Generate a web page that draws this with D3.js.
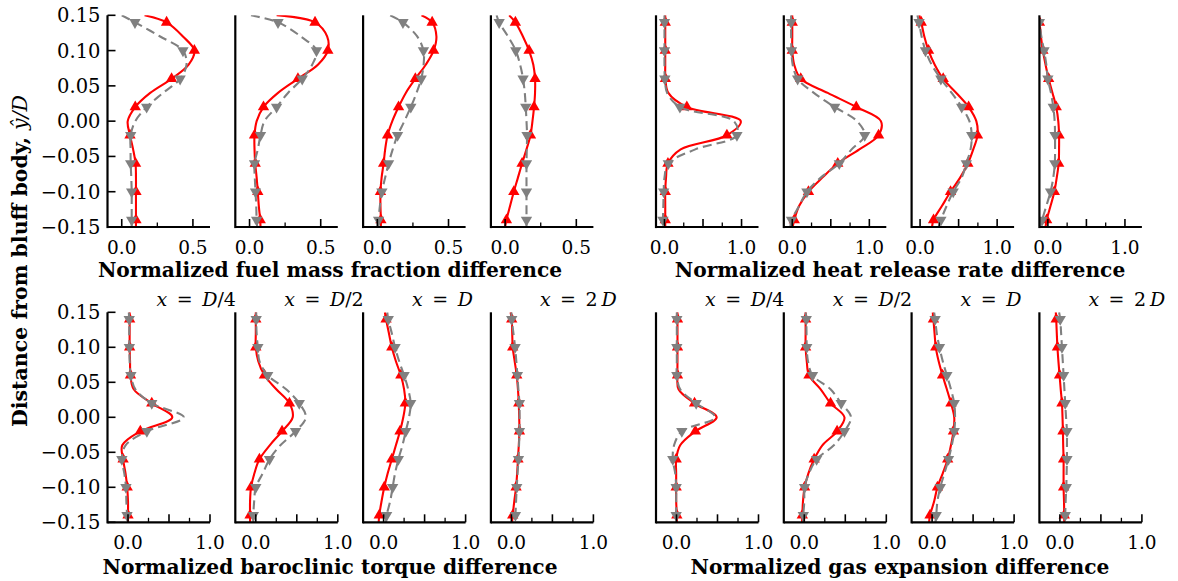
<!DOCTYPE html>
<html><head><meta charset="utf-8">
<script src="https://cdn.jsdelivr.net/npm/d3@7"></script>
<style>body{margin:0;background:#fff} svg{display:block}</style>
</head><body><svg id="c" width="1178" height="581"></svg>
<script>
// sampled heights (y / D) of each profile, top to bottom
const yLevels = [0.15, 0.14, 0.12, 0.10, 0.08, 0.06, 0.04, 0.02, 0.00, -0.02, -0.04, -0.06, -0.08, -0.10, -0.12, -0.14, -0.15];
const markerLevels = [0.14, 0.10, 0.06, 0.02, -0.02, -0.06, -0.10, -0.14];
const yTicks = [-0.15, -0.10, -0.05, 0.00, 0.05, 0.10, 0.15];
const stations = ["D/4", "D/2", "D", "2 D"];

// Normalized fuel mass fraction difference (4 stations)
const fuelRed = [
  [0.16, 0.315, 0.43, 0.51, 0.47, 0.35, 0.20, 0.095, 0.042, 0.058, 0.08, 0.097, 0.10, 0.10, 0.10, 0.10, 0.10],
  [0.19, 0.46, 0.545, 0.55, 0.48, 0.34, 0.20, 0.098, 0.05, 0.035, 0.035, 0.04, 0.05, 0.058, 0.065, 0.075, 0.077],
  [0.31, 0.385, 0.415, 0.395, 0.34, 0.267, 0.20, 0.149, 0.105, 0.072, 0.055, 0.044, 0.03, 0.022, 0.022, 0.025, 0.025],
  [0.028, 0.072, 0.125, 0.168, 0.198, 0.21, 0.21, 0.203, 0.192, 0.178, 0.15, 0.119, 0.09, 0.061, 0.035, 0.009, 0.0]
];
const fuelGray = [
  [0.0, 0.093, 0.27, 0.43, 0.455, 0.41, 0.29, 0.175, 0.095, 0.063, 0.062, 0.063, 0.067, 0.07, 0.07, 0.07, 0.07],
  [0.01, 0.20, 0.36, 0.47, 0.44, 0.37, 0.27, 0.19, 0.105, 0.077, 0.058, 0.035, 0.037, 0.042, 0.047, 0.05, 0.054],
  [0.09, 0.18, 0.28, 0.324, 0.325, 0.308, 0.275, 0.235, 0.19, 0.142, 0.108, 0.079, 0.055, 0.032, 0.018, 0.009, 0.007],
  [-0.06, -0.042, 0.02, 0.075, 0.105, 0.126, 0.138, 0.145, 0.15, 0.154, 0.152, 0.15, 0.15, 0.15, 0.15, 0.15, 0.15]
];
// Normalized heat release rate difference
const heatRed = [
  [0.01, 0.01, 0.01, 0.01, 0.01, 0.012, 0.05, 0.29, 0.99, 0.81, 0.21, 0.045, 0.02, 0.01, 0.01, 0.01, 0.01],
  [0.0, 0.0, 0.0, 0.0, 0.025, 0.11, 0.46, 0.83, 1.15, 1.12, 0.87, 0.59, 0.39, 0.21, 0.09, 0.026, 0.005],
  [-0.01, 0.015, 0.055, 0.11, 0.19, 0.30, 0.47, 0.63, 0.73, 0.745, 0.69, 0.62, 0.52, 0.395, 0.285, 0.175, 0.155],
  [-0.14, -0.11, -0.09, -0.065, -0.03, 0.01, 0.06, 0.108, 0.135, 0.145, 0.145, 0.14, 0.115, 0.084, 0.035, -0.016, -0.03]
];
const heatGray = [
  [0.0, 0.0, 0.0, 0.0, 0.0, 0.005, 0.035, 0.2, 0.9, 0.94, 0.4, 0.05, 0.0, -0.01, -0.015, -0.02, -0.02],
  [-0.015, -0.015, -0.015, -0.01, 0.005, 0.07, 0.28, 0.55, 0.84, 0.94, 0.77, 0.61, 0.37, 0.19, 0.09, -0.01, -0.025],
  [-0.035, -0.013, 0.02, 0.07, 0.15, 0.27, 0.41, 0.54, 0.64, 0.67, 0.655, 0.60, 0.54, 0.43, 0.345, 0.27, 0.24],
  [-0.13, -0.11, -0.085, -0.05, -0.02, 0.0, 0.04, 0.07, 0.088, 0.093, 0.093, 0.09, 0.07, 0.035, -0.02, -0.075, -0.1]
];
// Normalized baroclinic torque difference
const baroRed = [
  [0.02, 0.02, 0.02, 0.02, 0.025, 0.03, 0.07, 0.29, 0.54, 0.15, -0.07, -0.06, -0.03, -0.01, 0.0, 0.0, 0.0],
  [0.0, 0.0, 0.0, 0.0, 0.03, 0.105, 0.25, 0.41, 0.45, 0.32, 0.17, 0.044, -0.017, -0.058, -0.07, -0.07, -0.07],
  [0.016, 0.03, 0.065, 0.10, 0.15, 0.21, 0.25, 0.265, 0.24, 0.20, 0.15, 0.10, 0.05, 0.008, -0.025, -0.053, -0.06],
  [-0.01, 0.004, 0.01, 0.016, 0.04, 0.065, 0.08, 0.09, 0.095, 0.098, 0.09, 0.08, 0.07, 0.057, 0.035, 0.016, 0.008]
];
const baroGray = [
  [0.01, 0.015, 0.015, 0.017, 0.02, 0.035, 0.09, 0.29, 0.68, 0.23, -0.03, -0.075, -0.045, -0.025, -0.02, -0.012, -0.012],
  [0.005, 0.005, 0.01, 0.025, 0.045, 0.145, 0.37, 0.53, 0.61, 0.485, 0.30, 0.167, 0.085, 0.0, -0.02, -0.03, -0.03],
  [0.045, 0.057, 0.10, 0.14, 0.19, 0.25, 0.30, 0.33, 0.31, 0.27, 0.23, 0.18, 0.14, 0.11, 0.08, 0.037, 0.03],
  [0.0, 0.004, 0.025, 0.045, 0.06, 0.073, 0.085, 0.098, 0.1, 0.098, 0.093, 0.086, 0.075, 0.065, 0.057, 0.049, 0.045]
];
// Normalized gas expansion difference
const gasRed = [
  [0.012, 0.012, 0.012, 0.012, 0.012, 0.012, 0.025, 0.22, 0.49, 0.23, 0.045, -0.004, -0.004, -0.004, -0.004, 0.004, 0.004],
  [0.016, 0.016, 0.016, 0.016, 0.03, 0.057, 0.2, 0.32, 0.49, 0.40, 0.22, 0.12, 0.05, 0.004, -0.016, -0.024, -0.028],
  [0.008, 0.016, 0.03, 0.045, 0.08, 0.127, 0.18, 0.23, 0.27, 0.26, 0.23, 0.19, 0.13, 0.065, 0.025, -0.025, -0.037],
  [-0.05, -0.045, -0.038, -0.03, -0.018, -0.004, 0.01, 0.025, 0.032, 0.037, 0.04, 0.045, 0.045, 0.045, 0.05, 0.053, 0.053]
];
const gasGray = [
  [0.004, 0.004, 0.004, 0.004, 0.004, 0.004, 0.045, 0.24, 0.47, 0.065, -0.03, -0.045, -0.016, -0.004, -0.004, -0.004, -0.004],
  [0.016, 0.024, 0.027, 0.03, 0.045, 0.1, 0.32, 0.45, 0.57, 0.49, 0.36, 0.15, 0.057, 0.004, 0.0, -0.012, -0.012],
  [0.025, 0.037, 0.057, 0.09, 0.13, 0.18, 0.23, 0.27, 0.28, 0.27, 0.24, 0.2, 0.15, 0.1, 0.065, 0.05, 0.04],
  [-0.01, 0.004, 0.015, 0.025, 0.035, 0.045, 0.055, 0.065, 0.075, 0.086, 0.086, 0.086, 0.082, 0.078, 0.07, 0.065, 0.065]
];

const groups = [
  {title: "Normalized fuel mass fraction difference", row: 0, col: 0, domain: [-0.1, 0.62], major: [0, 0.5], minor: [0.25], labels: [0, 0.5], red: fuelRed, gray: fuelGray},
  {title: "Normalized heat release rate difference", row: 0, col: 1, domain: [-0.11, 1.22], major: [0, 0.5, 1.0], minor: [0.25, 0.75], labels: [0, 1.0], red: heatRed, gray: heatGray},
  {title: "Normalized baroclinic torque difference", row: 1, col: 0, domain: [-0.25, 1.0], major: [0, 0.5, 1.0], minor: [0.25, 0.75], labels: [0, 1.0], red: baroRed, gray: baroGray},
  {title: "Normalized gas expansion difference", row: 1, col: 1, domain: [-0.25, 1.0], major: [0, 0.5, 1.0], minor: [0.25, 0.75], labels: [0, 1.0], red: gasRed, gray: gasGray}
];

// layout
const groupLeft = [107.5, 656];
const panelStep = 127.8, panelW = 102.5;
const rowTop = [15.3, 312.3], rowBottom = [227, 522.3];
const titleX = [330, 900];
const titleY = [277, 574];
const SERIF = "'DejaVu Serif', serif";

const svg = d3.select("#c");
const defs = svg.append("defs");
const fmtX = d3.format(".1f"), fmtY = d3.format(".2f");
const tri = d3.symbol().type(d3.symbolTriangle).size(56);

let clipId = 0;
groups.forEach(g => {
  const y = d3.scaleLinear().domain([-0.15, 0.15]).range([rowBottom[g.row], rowTop[g.row]]);
  for (let p = 0; p < 4; p++) {
    const x0 = groupLeft[g.col] + p * panelStep;
    const x = d3.scaleLinear().domain(g.domain).range([x0, x0 + panelW]);
    const id = "clip" + (clipId++);
    defs.append("clipPath").attr("id", id).append("rect")
      .attr("x", x0).attr("y", y(0.15)).attr("width", panelW).attr("height", y(-0.15) - y(0.15));
    const gp = svg.append("g");
    const plot = gp.append("g").attr("clip-path", `url(#${id})`);
    const line = d3.line().curve(d3.curveCatmullRom.alpha(0.5)).x(d => x(d[0])).y(d => y(d[1]));

    const series = [
      {vals: g.red[p], color: "#ff0000", dash: null, rot: 0},
      {vals: g.gray[p], color: "#808080", dash: "9,5", rot: 180}
    ];
    series.forEach(s => {
      const pts = yLevels.map((lv, i) => [s.vals[i], lv]);
      plot.append("path").attr("d", line(pts)).attr("fill", "none")
        .attr("stroke", s.color).attr("stroke-width", 2.1)
        .attr("stroke-dasharray", s.dash);
      const mk = pts.filter(d => markerLevels.some(m => Math.abs(m - d[1]) < 1e-9));
      plot.selectAll(null).data(mk).enter().append("path")
        .attr("d", tri)
        .attr("transform", d => `translate(${x(d[0])},${y(d[1])}) rotate(${s.rot})`)
        .attr("fill", s.color);
    });

    // x axis ticks (inward)
    const ax = gp.append("g");
    g.major.forEach(t => ax.append("line").attr("x1", x(t)).attr("x2", x(t))
      .attr("y1", y(-0.15)).attr("y2", y(-0.15) - 8).attr("stroke", "#000").attr("stroke-width", 1.6));
    g.minor.forEach(t => ax.append("line").attr("x1", x(t)).attr("x2", x(t))
      .attr("y1", y(-0.15)).attr("y2", y(-0.15) - 4.5).attr("stroke", "#000").attr("stroke-width", 1.3));
    g.labels.forEach(t => ax.append("text").attr("x", x(t)).attr("y", y(-0.15) + 26.5)
      .attr("text-anchor", "middle").attr("font-family", SERIF).attr("font-size", 18.5)
      .text(fmtX(t)));
    // spines
    ax.append("line").attr("x1", x0).attr("x2", x0 + panelW).attr("y1", y(-0.15)).attr("y2", y(-0.15))
      .attr("stroke", "#000").attr("stroke-width", 2.2);
    ax.append("line").attr("x1", x0).attr("x2", x0).attr("y1", y(0.15)).attr("y2", y(-0.15) + 1.1)
      .attr("stroke", "#000").attr("stroke-width", 2.2);

    // y ticks only on the leftmost panels of the figure
    if (g.col === 0 && p === 0) {
      yTicks.forEach(t => {
        ax.append("line").attr("x1", x0).attr("x2", x0 + 8).attr("y1", y(t)).attr("y2", y(t))
          .attr("stroke", "#000").attr("stroke-width", 1.6);
        ax.append("text").attr("x", x0 - 7).attr("y", y(t)).attr("dy", "0.36em")
          .attr("text-anchor", "end").attr("font-family", SERIF).attr("font-size", 19.5)
          .text(fmtY(t));
      });
    }

    // station labels on the bottom row
    if (g.row === 1) {
      const st = stations[p];
      const t = gp.append("text").attr("x", x0 + 49).attr("y", 306)
        .attr("font-family", SERIF).attr("font-size", 19);
      t.append("tspan").attr("font-style", "italic").text("x");
      if (st.startsWith("2")) {
        t.append("tspan").text("\u2002=\u20022\u2009");
        t.append("tspan").attr("font-style", "italic").text("D");
      } else {
        t.append("tspan").text("\u2002=\u2002");
        t.append("tspan").attr("font-style", "italic").text("D");
        if (st.length > 1) t.append("tspan").text(st.slice(1));
      }
    }
  }
  svg.append("text").attr("x", titleX[g.col]).attr("y", titleY[g.row])
    .attr("text-anchor", "middle").attr("font-family", SERIF).attr("font-weight", "bold")
    .attr("font-size", 20.2).text(g.title);
});

// y-axis title
const yl = svg.append("text").attr("transform", "translate(27,261) rotate(-90)")
  .attr("text-anchor", "middle").attr("font-family", SERIF).attr("font-weight", "bold").attr("font-size", 20.5);
yl.append("tspan").text("Distance from bluff body, ");
yl.append("tspan").attr("font-style", "italic").attr("font-weight", "normal").text("\u0177/D");
</script></body></html>
